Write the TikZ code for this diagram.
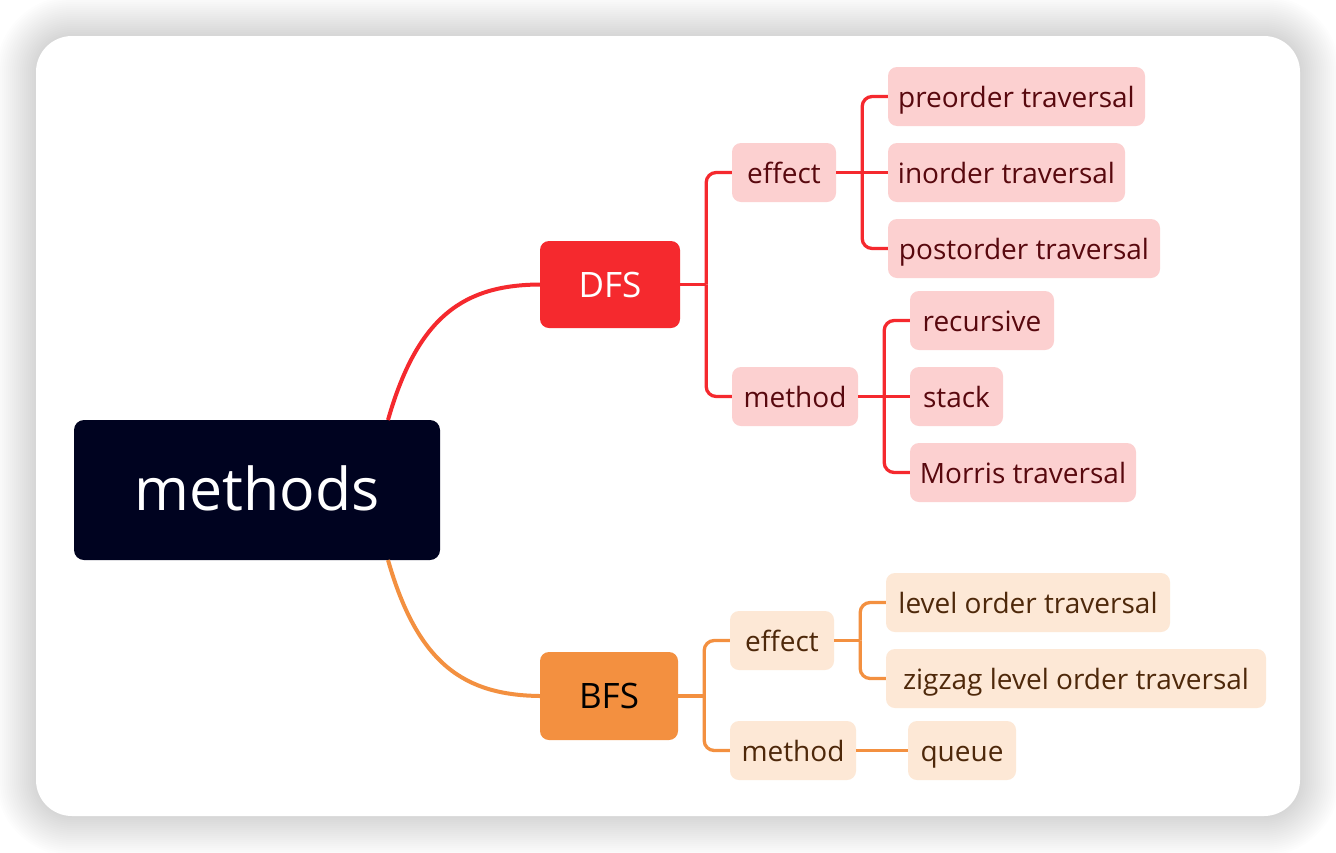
\documentclass[tikz,border=0pt]{standalone}
\usepackage{fontspec}
\setmainfont{Open Sans}
\definecolor{rootc}{RGB}{0,3,32}
\definecolor{redc}{RGB}{245,41,46}
\definecolor{redl}{RGB}{252,208,208}
\definecolor{redt}{RGB}{88,8,14}
\definecolor{orc}{RGB}{243,144,64}
\definecolor{orl}{RGB}{253,232,214}
\definecolor{ort}{RGB}{78,40,10}
\tikzset{
  root/.style={fill=rootc, text=white, rounded corners=10pt, inner sep=0pt,
    font=\fontsize{59}{64}\selectfont, text height=40pt, text depth=0pt,
    minimum width=366pt, minimum height=140pt},
  main/.style={rounded corners=9pt, inner sep=0pt, font=\fontsize{35}{40}\selectfont,
    text height=25pt, text depth=0pt, minimum height=87pt},
  sub/.style={rounded corners=9pt, inner sep=0pt, font=\fontsize{28}{32}\selectfont,
    text height=21pt, text depth=0pt, minimum height=59pt},
  redsub/.style={sub, fill=redl, text=redt},
  orsub/.style={sub, fill=orl, text=ort},
  redline/.style={draw=redc, line width=3.3pt},
  orline/.style={draw=orc, line width=3.3pt},
}
\begin{document}
\begin{tikzpicture}[x=1pt,y=-1pt]
\useasboundingbox (0,0) rectangle (1336,852);
\fill[white] (0,0) rectangle (1336,852);
% shadow
\foreach \i in {1,...,20}{
  \pgfmathsetmacro{\r}{36+2*\i}
  \fill[black, opacity=0.006, rounded corners=\r pt] (36-2*\i,36-2*\i) rectangle (1300+2*\i,816+2*\i);
}
\fill[white, rounded corners=36pt] (36,36) rectangle (1300,816);

% nodes
\node[root] (methods) at (257,490) {methods};
\node[main, fill=redc, text=white, minimum width=140pt] (dfs) at (610,284.5) {DFS};
\node[main, fill=orc, text=black, minimum width=138pt, minimum height=88pt] (bfs) at (609,696) {BFS};

\node[redsub, minimum width=104pt] (de) at (784,172.5) {effect};
\node[redsub, minimum width=126pt] (dm) at (795,396.5) {method};
\node[redsub, minimum width=257pt] (pre) at (1016.5,96.5) {preorder traversal};
\node[redsub, minimum width=237pt] (ino) at (1006.5,172.5) {inorder traversal};
\node[redsub, minimum width=272pt] (post) at (1024,248.5) {postorder traversal};
\node[redsub, minimum width=144pt] (rec) at (982,320.5) {recursive};
\node[redsub, minimum width=93pt] (stk) at (956.5,396.5) {stack};
\node[redsub, minimum width=226pt] (mor) at (1023,472.5) {Morris traversal};

\node[orsub, minimum width=104pt] (be) at (782,640.5) {effect};
\node[orsub, minimum width=126pt] (bm) at (793,750.5) {method};
\node[orsub, minimum width=284pt] (lvl) at (1028,602.5) {level order traversal};
\node[orsub, minimum width=380pt] (zig) at (1076,678.5) {zigzag level order traversal};
\node[orsub, minimum width=108pt] (que) at (962,750.5) {queue};

% root connectors
\coordinate (mt) at (388,420);
\coordinate (mb) at (388,560);
\draw[draw=redc, line width=4pt] (mt) .. controls (418,315) and (465,285) .. (dfs.west);
\draw[draw=orc, line width=4pt] (mb) .. controls (418,665) and (465,695) .. (bfs.west);

% DFS branches
\coordinate (dj) at ([xshift=26pt]dfs.east);
\draw[redline] (dfs.east) -- (dj);
\draw[redline, rounded corners=10pt] (de.west) -| (dj);
\draw[redline, rounded corners=10pt] (dm.west) -| (dj);

\coordinate (ej) at ([xshift=26pt]de.east);
\draw[redline] (de.east) -- (ino.west);
\draw[redline, rounded corners=10pt] (pre.west) -| (ej);
\draw[redline, rounded corners=10pt] (post.west) -| (ej);

\coordinate (mj) at ([xshift=26pt]dm.east);
\draw[redline] (dm.east) -- (stk.west);
\draw[redline, rounded corners=10pt] (rec.west) -| (mj);
\draw[redline, rounded corners=10pt] (mor.west) -| (mj);

% BFS branches
\coordinate (bj) at ([xshift=26pt]bfs.east);
\draw[orline] (bfs.east) -- (bj);
\draw[orline, rounded corners=10pt] (be.west) -| (bj);
\draw[orline, rounded corners=10pt] (bm.west) -| (bj);

\coordinate (bej) at ([xshift=26pt]be.east);
\draw[orline] (be.east) -- (bej);
\draw[orline, rounded corners=10pt] (lvl.west) -| (bej);
\draw[orline, rounded corners=10pt] (zig.west) -| (bej);

\draw[orline] (bm.east) -- (que.west);
\end{tikzpicture}
\end{document}
